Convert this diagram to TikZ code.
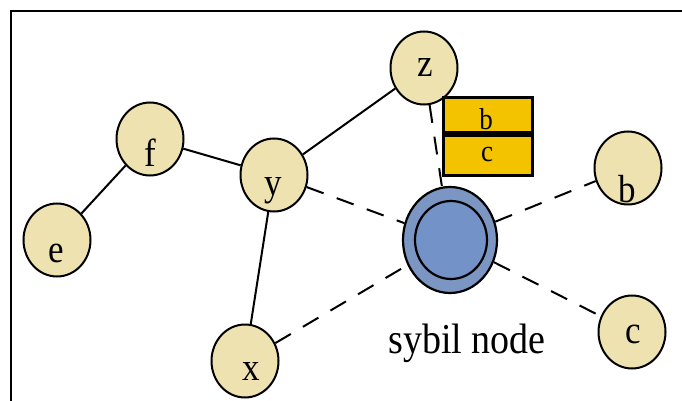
\documentclass[tikz,border=0pt]{standalone}
\usepackage{fontspec}
\setmainfont{Liberation Serif}
\usetikzlibrary{shapes.geometric}
\definecolor{nodefill}{HTML}{EEE3B0}
\definecolor{sybfill}{HTML}{7B96C2}
\definecolor{sybinner}{HTML}{7393C8}
\definecolor{boxfill}{HTML}{F3C300}
\newcommand{\vs}[1]{\scalebox{1}[1.12]{#1}}
\begin{document}
\begin{tikzpicture}[x=1pt,y=-1pt,
  peer/.style={ellipse,draw=black,line width=2pt,fill=nodefill,minimum width=67pt,minimum height=73pt,inner sep=0pt},
  letter/.style={anchor=base,inner sep=0pt,font=\fontsize{35}{35}\selectfont},
  boxletter/.style={anchor=base,inner sep=0pt,font=\fontsize{27}{27}\selectfont},
  solidedge/.style={line width=2pt},
  dashedge/.style={line width=2pt,dash pattern=on 18pt off 14pt}]
\useasboundingbox (0,0) rectangle (682,401);
\fill[white] (0,0) rectangle (682,401);
\draw[line width=2pt] (682,11) -- (11,11) -- (11,401);
% nodes
\node[peer] (z) at (424,68) {};
\node[peer] (f) at (150,139) {};
\node[peer] (y) at (274,175) {};
\node[peer] (e) at (57,240) {};
\node[peer] (x) at (245,361) {};
\node[peer] (b) at (628,168) {};
\node[peer] (c) at (632,332) {};
\node[letter] (zt) at (425,77) {\vs{z}};
\node[letter] (ft) at (150,166) {\vs{f}};
\node[letter] (yt) at (273,195) {\vs{y}};
\node[letter] (et) at (56,262) {\vs{e}};
\node[letter] (xt) at (251,380) {\vs{x}};
\node[letter] (bt) at (627,202) {\vs{b}};
\node[letter] (ct) at (633,343) {\vs{c}};
\node[ellipse,draw=black,line width=2.2pt,fill=sybfill,minimum width=94pt,minimum height=106pt,inner sep=0pt] (s) at (450,240) {};
\node[ellipse,draw=black,line width=2.2pt,fill=sybinner,minimum width=72pt,minimum height=78pt,inner sep=0pt] (si) at (451,240) {};
\node[anchor=base,inner sep=0pt,font=\fontsize{38}{38}\selectfont] (lab) at (467,353) {\vs{sybil node}};
% box
\node[draw=black,line width=3pt,fill=boxfill,minimum width=89pt,minimum height=34pt,inner sep=0pt] (bb) at (487.5,115) {};
\node[draw=black,line width=3pt,fill=boxfill,minimum width=89pt,minimum height=40pt,inner sep=0pt,anchor=north] (bc) at (bb.south) {};
\node[boxletter] (bbt) at (486,129) {\vs{b}};
\node[boxletter] (bct) at (487,161) {\vs{c}};
% edges
\draw[solidedge] (e) -- (f);
\draw[solidedge] (f) -- (y);
\draw[solidedge] (y) -- (z);
\draw[solidedge] (y) -- (x);
\draw[dashedge] (z) -- (s);
\draw[dashedge] (y) -- (s);
\draw[dashedge] (x) -- (s);
\draw[dashedge] (s) -- (b);
\draw[dashedge] (s) -- (c);
\end{tikzpicture}
\end{document}
